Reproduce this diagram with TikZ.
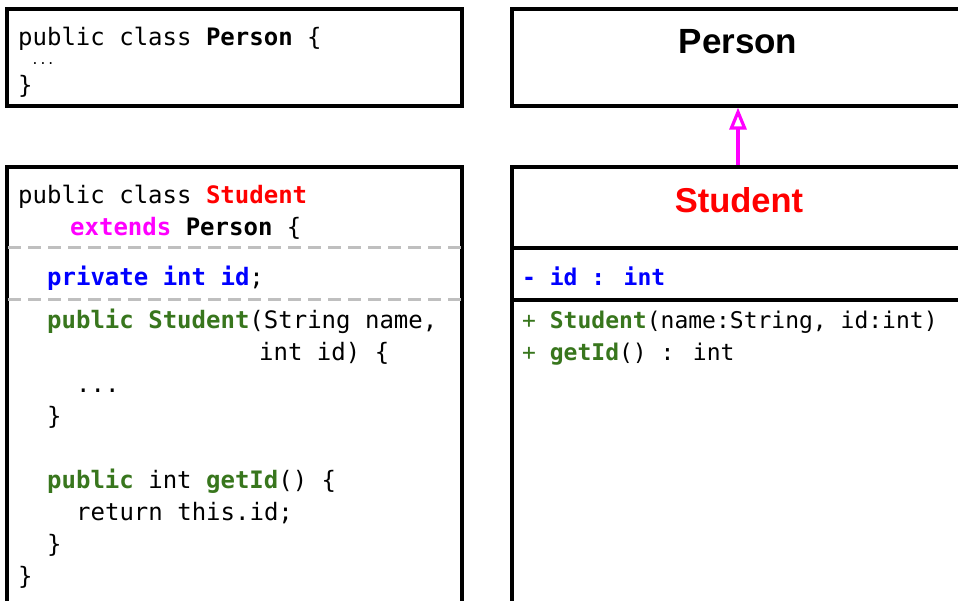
\documentclass[tikz,border=0pt]{standalone}
\usepackage{fontspec}
\newfontfamily\codefont{DejaVu Sans Mono}
\newfontfamily\headfont{Liberation Sans}
\usetikzlibrary{arrows.meta}
\definecolor{kwgreen}{RGB}{56,118,29}
\definecolor{kwblue}{RGB}{0,0,255}
\definecolor{kwred}{RGB}{255,0,0}
\definecolor{kwmagenta}{RGB}{255,0,255}
\definecolor{sepgray}{RGB}{191,191,191}
\newcommand{\kwg}[1]{{\bfseries\color{kwgreen}#1}}
\newcommand{\kwb}[1]{{\bfseries\color{kwblue}#1}}
\begin{document}
\begin{tikzpicture}[x=1pt,y=-1pt,
  frame/.style={draw=black, line width=3.2pt, rectangle, inner sep=0pt},
  codeline/.style={anchor=base west, inner sep=0pt,
    font=\codefont\fontsize{24}{28}\selectfont},
  umlline/.style={anchor=base west, inner sep=0pt,
    font=\codefont\fontsize{23}{28}\selectfont},
  smalldots/.style={anchor=base west, inner sep=0pt,
    font=\codefont\fontsize{13}{16}\selectfont},
  heading/.style={anchor=base, inner sep=0pt,
    font=\headfont\bfseries\fontsize{35}{40}\selectfont},
  sep/.style={draw=sepgray, line width=3pt, dash pattern=on 13pt off 7pt},
  rule/.style={draw=black, line width=3.2pt},
  inherit/.style={draw=kwmagenta, line width=3.2pt,
    -{Triangle[open, length=22pt, width=17pt]}}]

\path[use as bounding box] (0,0) rectangle (958,600);
\clip (0,0) rectangle (958,600);

% ---- source of Person ----
\node[frame, minimum width=455pt, minimum height=97pt] (pcode) at (234.5,57.5) {};
\node[codeline] (p1) at (18,45) {public class \textbf{Person} \{};
\node[smalldots] (p2) at (31,64) {...};
\node[codeline] (p3) at (18,93) {\}};

% ---- source of Student ----
\node[frame, minimum width=455pt, minimum height=480pt] (scode) at (234.5,407) {};
\node[codeline] (s1) at (18,203) {public class {\bfseries\color{kwred}Student}};
\node[codeline] (s2) at (70,235) {{\bfseries\color{kwmagenta}extends} \textbf{Person} \{};
\coordinate (d1) at (8,247);
\coordinate (d2) at (8,299);
\draw[sep] (d1) -- (d1 -| scode.east);
\draw[sep] (d2) -- (d2 -| scode.east);
\node[codeline] (s3) at (47,285) {\kwb{private int id};};
\node[codeline] (s4) at (47,328) {\kwg{public} \kwg{Student}(String name,};
\node[codeline] (s5) at (259,360) {int id) \{};
\node[codeline] (s6) at (76,392) {...};
\node[codeline] (s7) at (47,424) {\}};
\node[codeline] (s8) at (47,488) {\kwg{public} int \kwg{getId}() \{};
\node[codeline] (s9) at (76,520) {return this.id;};
\node[codeline] (s10) at (47,552) {\}};
\node[codeline] (s11) at (18,584) {\}};

% ---- UML class boxes ----
\node[frame, minimum width=452pt, minimum height=97pt] (pbox) at (738,57.5) {};
\node[heading] (ptitle) at (738,53) {Person};

\node[frame, minimum width=452pt, minimum height=480pt] (ubox) at (738,407) {};
\node[heading, font=\headfont\bfseries\fontsize{34.5}{40}\selectfont, text=kwred]
  (utitle) at (739,212) {Student};
\coordinate (r1) at (512,248);
\coordinate (r2) at (512,300);
\draw[rule] (r1) -- (r1 -| ubox.east);
\draw[rule] (r2) -- (r2 -| ubox.east);
\node[umlline] (u1) at (522,285) {\kwb{- id : int}};
\node[umlline] (u2) at (522,328) {{\color{kwgreen}+} \kwg{Student}(name:String, id:int)};
\node[umlline] (u3) at (522,360) {{\color{kwgreen}+} \kwg{getId}() : int};

% ---- generalisation ----
\draw[inherit] (ubox.north) -- (pbox.south);
\end{tikzpicture}
\end{document}
